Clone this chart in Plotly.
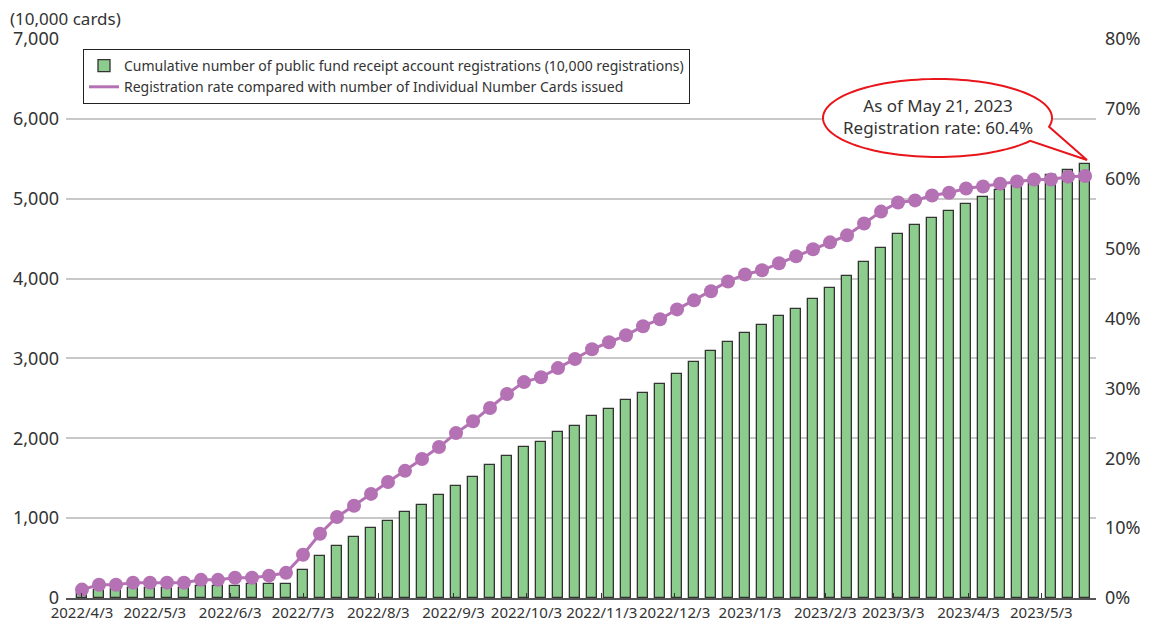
import numpy as np
import pandas as pd
import plotly.graph_objects as go

# weekly data, 2022/4/3 - 2023/5/21
weeks = pd.date_range("2022-04-03", "2023-05-21", freq="7D")

# cumulative registrations (10,000 registrations)
registrations = [60, 95, 113, 121, 121, 121, 121, 150, 150, 150,
                 175, 177, 180, 350, 530, 650, 764, 878, 968, 1078,
                 1170, 1287, 1402, 1517, 1663, 1778, 1892, 1957, 2076, 2160,
                 2278, 2366, 2481, 2566, 2686, 2802, 2952, 3092, 3207, 3322,
                 3416, 3535, 3618, 3741, 3881, 4031, 4204, 4382, 4555, 4670,
                 4757, 4847, 4933, 5020, 5108, 5192, 5235, 5300, 5365, 5433]

# registration rate vs cards issued (%)
reg_rate = [1.2, 1.9, 1.9, 2.2, 2.2, 2.2, 2.2, 2.6, 2.6, 2.9,
            2.9, 3.2, 3.6, 6.2, 9.2, 11.6, 13.2, 14.9, 16.6, 18.2,
            19.9, 21.6, 23.6, 25.3, 27.2, 29.2, 30.9, 31.6, 32.9, 34.2,
            35.6, 36.6, 37.6, 38.9, 39.9, 41.3, 42.6, 43.9, 45.3, 46.3,
            46.9, 47.9, 48.9, 49.9, 50.9, 51.9, 53.6, 55.3, 56.6, 56.9,
            57.6, 58.0, 58.6, 58.9, 59.3, 59.6, 59.9, 59.9, 60.3, 60.4]

tick_labels = ["2022/4/3", "2022/5/3", "2022/6/3", "2022/7/3", "2022/8/3",
               "2022/9/3", "2022/10/3", "2022/11/3", "2022/12/3", "2023/1/3",
               "2023/2/3", "2023/3/3", "2023/4/3", "2023/5/3"]
tick_dates = pd.to_datetime(tick_labels, format="%Y/%m/%d")

bar_name = "Cumulative number of public fund receipt account registrations (10,000 registrations)"
line_name = "Registration rate compared with number of Individual Number Cards issued"

FONT = "Noto Sans"
TXT = "#333333"
PURPLE = "#b472b4"

# page has an 8px body margin, so the figure is made a bit smaller
PAGE_OFF = 8
W, H = 1154 - PAGE_OFF, 626 - PAGE_OFF

# plot area in screen pixels
L, R, T, B = 66, 1096, 39, 598

def to_paper(px, py):
    return (px - L) / (R - L), (B - py) / (B - T)

def callout_path():
    # ellipse with a pointer towards the last point
    cx, cy, rx, ry = 937.5, 118, 114.5, 39
    tip = (1087, 160)
    pts = []
    for a in np.linspace(36, 373, 120):
        t = np.radians(a)
        pts.append(to_paper(cx + rx * np.cos(t), cy + ry * np.sin(t)))
    pts.append(to_paper(*tip))
    path = "M" + " L".join(f"{x:.5f},{y:.5f}" for x, y in pts) + " Z"
    return path

fig = go.Figure()
fig.add_trace(go.Bar(name=bar_name, x=weeks, y=registrations,
                     width=4.3 * 86400000,
                     marker={"color": "#8ccc8c", "line": {"color": "#333333", "width": 1.3}}))
fig.add_trace(go.Scatter(name=line_name, x=weeks, y=reg_rate, yaxis="y2",
                         mode="lines", line={"color": PURPLE, "width": 3}))
fig.add_trace(go.Scatter(name=line_name, x=weeks, y=reg_rate, yaxis="y2",
                         mode="markers", showlegend=False,
                         marker={"color": PURPLE, "size": 14}))

cx, cy = to_paper(937.5, 116)
fig.add_shape(type="path", path=callout_path(), xref="paper", yref="paper",
              fillcolor="white", line={"color": "#e8161b", "width": 2}, layer="above")
fig.add_annotation(x=cx, y=cy, xref="paper", yref="paper", showarrow=False,
                   xanchor="center", yanchor="middle",
                   text="As of May 21, 2023<br>Registration rate: 60.4%",
                   font={"family": FONT, "size": 17, "color": TXT}, align="center")
fig.add_annotation(x=to_paper(8, 0)[0], y=to_paper(0, 18)[1], xref="paper", yref="paper",
                   xanchor="left", yanchor="middle", showarrow=False,
                   text="(10,000 cards)", font={"family": FONT, "size": 17, "color": TXT})

fig.update_layout(
    width=W, height=H, template="none",
    margin={"l": L - PAGE_OFF, "r": W - (R - PAGE_OFF), "t": T - PAGE_OFF,
            "b": H - (B - PAGE_OFF), "pad": 0, "autoexpand": False},
    paper_bgcolor="white", plot_bgcolor="white",
    font={"family": FONT, "color": TXT},
    bargap=0, showlegend=True,
    legend={"x": to_paper(83, 0)[0], "y": to_paper(0, 49)[1], "xanchor": "left", "yanchor": "top",
            "bgcolor": "white", "bordercolor": "#222222", "borderwidth": 1,
            "font": {"family": FONT, "size": 14, "color": TXT},
            "tracegroupgap": 0, "itemwidth": 30},
    xaxis={"type": "date", "range": ["2022-03-27 10:00", "2023-05-25 12:00"],
           "tickvals": tick_dates, "ticktext": tick_labels, "tickangle": 0, "automargin": False,
           "ticks": "inside", "ticklen": 5, "tickcolor": "#333333", "tickwidth": 1,
           "showgrid": False, "showline": True, "linecolor": "#555555", "linewidth": 1.5,
           "tickfont": {"size": 15, "color": TXT}, "zeroline": False},
    yaxis={"range": [0, 7000], "dtick": 1000, "tickformat": ",d", "automargin": False,
           "showgrid": True, "gridcolor": "#c8c8c8", "gridwidth": 2,
           "zeroline": False, "showline": False, "ticks": "", "ticklabelstandoff": 6,
           "tickfont": {"size": 18, "color": TXT}},
    yaxis2={"range": [0, 80], "dtick": 10, "ticksuffix": "%", "overlaying": "y", "side": "right",
            "showgrid": False, "zeroline": False, "showline": False, "ticks": "", "automargin": False,
            "ticklabelstandoff": 8, "tickfont": {"size": 18, "color": TXT}},
)

fig.write_html("out.html")
